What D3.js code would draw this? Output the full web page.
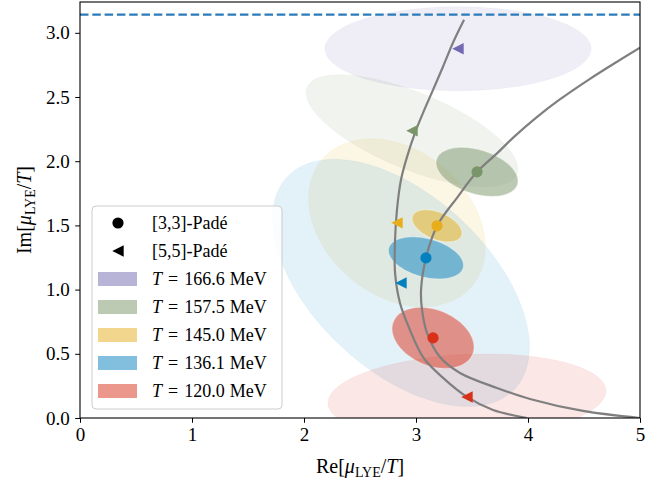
<!DOCTYPE html>
<html><head><meta charset="utf-8">
<script src="https://cdn.jsdelivr.net/npm/d3@7"></script>
<style>
body{margin:0;background:#fff}
text{font-family:"Liberation Serif","DejaVu Serif",serif;fill:#000}
</style>
</head><body><svg id="c" width="672" height="487"></svg>
<script>
// ---- data ----
const temperatures = ["166.6", "157.5", "145.0", "136.1", "120.0"];
// [3,3]-Padé estimates (centre, half-extents, correlation); none for the highest T
const pade33X   = [null, 3.545, 3.188, 3.089, 3.152];
const pade33Y   = [null, 1.917, 1.497, 1.247, 0.624];
const pade33SX  = [null, 0.366, 0.223, 0.335, 0.366];
const pade33SY  = [null, 0.191, 0.125, 0.164, 0.238];
const pade33Rho = [null, -0.37, -0.45, -0.35, -0.30];
// [5,5]-Padé estimates
const pade55X   = [3.375, 2.964, 2.830, 2.866, 3.455];
const pade55Y   = [2.876, 2.237, 1.520, 1.052, 0.164];
const pade55SX  = [1.188, 0.946, 0.790, 1.147, 1.241];
const pade55SY  = [0.327, 0.436, 0.655, 0.963, 0.335];
const pade55Rho = [0.00, -0.68, -0.29, -0.52, 0.14];
// scaling curves
const curve55X = [3.429, 3.330, 3.241, 3.152, 3.063, 2.991, 2.920, 2.866, 2.830, 2.813, 2.813, 2.857, 2.946, 3.063, 3.232, 3.455, 3.688, 3.991];
const curve55Y = [3.102, 2.923, 2.736, 2.556, 2.377, 2.221, 2.034, 1.855, 1.621, 1.387, 1.130, 0.896, 0.686, 0.475, 0.320, 0.164, 0.062, 0.000];
const curve33X = [5.000, 4.795, 4.540, 4.281, 4.071, 3.875, 3.728, 3.545, 3.366, 3.188, 3.089, 3.045, 3.054, 3.098, 3.214, 3.393, 3.723, 4.018, 4.491, 5.000];
const curve33Y = [2.884, 2.775, 2.634, 2.479, 2.338, 2.190, 2.065, 1.917, 1.715, 1.496, 1.247, 0.998, 0.842, 0.663, 0.475, 0.351, 0.234, 0.148, 0.055, 0.000];
const xTicks = [0, 1, 2, 3, 4, 5];
const yTicks = [0.0, 0.5, 1.0, 1.5, 2.0, 2.5, 3.0];
const xDomain = [0, 5];
const yDomain = [0, 3.24];
const piLevel = Math.PI;

// ---- styles ----
const colors = ["#7169b1", "#799569", "#e6ae1c", "#0580bf", "#d9301a"];
const L = 80, R = 640, T = 2, B = 418;
const FS = 18, TFS = 19, LFS = 20;

const svg = d3.select("#c");
const x = d3.scaleLinear().domain(xDomain).range([L, R]);
const y = d3.scaleLinear().domain(yDomain).range([B, T]);

svg.append("defs").append("clipPath").attr("id", "clip")
  .append("rect").attr("x", L).attr("y", T).attr("width", R - L).attr("height", B - T);
const plot = svg.append("g").attr("clip-path", "url(#clip)");

function ellipsePts(cx, cy, sx, sy, rho) {
  const n = 120, pts = [], s = Math.sqrt(1 - rho * rho);
  for (let i = 0; i < n; i++) {
    const t = 2 * Math.PI * i / n;
    pts.push([cx + sx * Math.cos(t), cy + sy * (rho * Math.cos(t) + s * Math.sin(t))]);
  }
  return pts;
}
const ellLine = d3.line().x(d => x(d[0])).y(d => y(d[1])).curve(d3.curveLinearClosed);

// large [5,5] ellipses
temperatures.forEach((t, i) => {
  plot.append("path")
    .attr("d", ellLine(ellipsePts(pade55X[i], pade55Y[i], pade55SX[i], pade55SY[i], pade55Rho[i])))
    .attr("fill", colors[i]).attr("fill-opacity", 0.115)
    .attr("stroke", colors[i]).attr("stroke-opacity", 0.04).attr("stroke-width", 1);
});
// small [3,3] ellipses
temperatures.forEach((t, i) => {
  if (pade33X[i] == null) return;
  plot.append("path")
    .attr("d", ellLine(ellipsePts(pade33X[i], pade33Y[i], pade33SX[i], pade33SY[i], pade33Rho[i])))
    .attr("fill", colors[i]).attr("fill-opacity", 0.5)
    .attr("stroke", "#ffffff").attr("stroke-opacity", 0.35).attr("stroke-width", 1.2);
});

// pi line
plot.append("line")
  .attr("x1", x(xDomain[0])).attr("x2", x(xDomain[1]))
  .attr("y1", y(piLevel)).attr("y2", y(piLevel))
  .attr("stroke", "#2b7bba").attr("stroke-width", 2.2).attr("stroke-dasharray", "8.5,3.8");

// curves
const cLine = d3.line().x(d => x(d[0])).y(d => y(d[1])).curve(d3.curveCatmullRom.alpha(0.5));
[[curve55X, curve55Y], [curve33X, curve33Y]].forEach(([cx, cy]) => {
  plot.append("path").attr("d", cLine(cx.map((v, k) => [v, cy[k]])))
    .attr("fill", "none").attr("stroke", "#7f7f7f").attr("stroke-width", 2.2);
});

// markers
const tri = d3.symbol().type({draw(ctx, size){ const r = Math.sqrt(size) / 2;
  ctx.moveTo(-r, 0); ctx.lineTo(r, -r); ctx.lineTo(r, r); ctx.closePath(); }}).size(130);
temperatures.forEach((t, i) => {
  plot.append("path").attr("d", tri)
    .attr("transform", `translate(${x(pade55X[i])},${y(pade55Y[i])})`)
    .attr("fill", colors[i]);
  if (pade33X[i] != null)
    plot.append("circle").attr("cx", x(pade33X[i])).attr("cy", y(pade33Y[i])).attr("r", 5.6)
      .attr("fill", colors[i]);
});

// axes
const xAxis = svg.append("g").attr("transform", `translate(0,${B})`)
  .call(d3.axisBottom(x).tickValues(xTicks).tickSize(4.8).tickPadding(4.5).tickFormat(d3.format("d")));
const yAxis = svg.append("g").attr("transform", `translate(${L},0)`)
  .call(d3.axisLeft(y).tickValues(yTicks).tickSize(4.8).tickPadding(5.5).tickFormat(d3.format(".1f")));
[xAxis, yAxis].forEach(a => {
  a.select(".domain").remove();
  a.selectAll("text").attr("font-size", TFS).attr("font-family", '"Liberation Serif", serif').attr("fill", "#000");
  a.selectAll("line").attr("stroke", "#000").attr("stroke-width", 1);
});
svg.append("rect").attr("x", L).attr("y", T).attr("width", R - L).attr("height", B - T)
  .attr("fill", "none").attr("stroke", "#000").attr("stroke-width", 1.1);

// axis labels
function mathLabel(g, pre) {
  const t = g.append("text").attr("font-size", LFS).attr("text-anchor", "middle");
  t.append("tspan").text(pre + "[");
  t.append("tspan").attr("font-style", "italic").text("μ");
  t.append("tspan").attr("font-size", 14).attr("dy", 4).text("LYE");
  t.append("tspan").attr("dy", -4).text("/");
  t.append("tspan").attr("font-style", "italic").text("T");
  t.append("tspan").text("]");
  return t;
}
mathLabel(svg.append("g").attr("transform", `translate(${(L + R) / 2},473)`), "Re");
mathLabel(svg.append("g").attr("transform", `translate(31,${(T + B) / 2}) rotate(-90)`), "Im");

// legend
const lg = svg.append("g");
lg.append("rect").attr("x", 92).attr("y", 206).attr("width", 190).attr("height", 203).attr("rx", 4)
  .attr("fill", "#fff").attr("fill-opacity", 0.8).attr("stroke", "#cccccc").attr("stroke-width", 1);
const rowY = k => 223 + 28 * k;
lg.append("circle").attr("cx", 118).attr("cy", rowY(0)).attr("r", 5.6).attr("fill", "#000");
lg.append("path").attr("d", tri).attr("transform", `translate(118,${rowY(1)})`).attr("fill", "#000");
lg.append("text").attr("x", 152).attr("y", rowY(0) + 6).attr("font-size", FS).text("[3,3]-Padé");
lg.append("text").attr("x", 152).attr("y", rowY(1) + 6).attr("font-size", FS).text("[5,5]-Padé");
temperatures.forEach((t, i) => {
  const yy = rowY(i + 2);
  lg.append("rect").attr("x", 98).attr("y", yy - 7).attr("width", 39).attr("height", 14)
    .attr("fill", colors[i]).attr("fill-opacity", 0.5);
  const tx = lg.append("text").attr("x", 152).attr("y", yy + 6).attr("font-size", FS);
  tx.append("tspan").attr("font-style", "italic").text("T");
  tx.append("tspan").attr("dx", 6).text("=");
  tx.append("tspan").attr("dx", 6).text(t);
  tx.append("tspan").attr("dx", 5).text("MeV");
});
</script></body></html>
